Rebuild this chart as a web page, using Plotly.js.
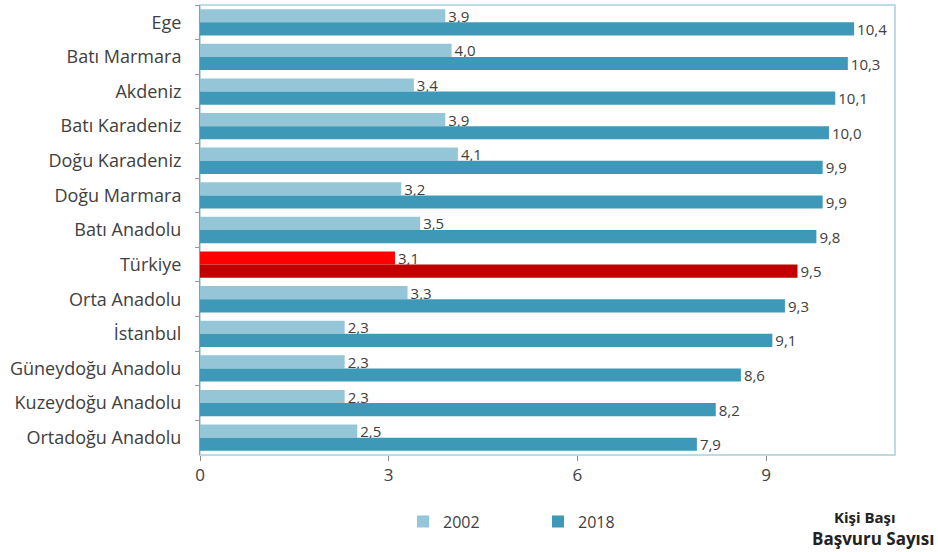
<!DOCTYPE html>
<html>
<head>
<meta charset="utf-8">
<script src="https://cdn.plot.ly/plotly-3.0.1.min.js"></script>
<style>
  html, body { margin: 0; padding: 0; background: #fff; }
  #chart { width: 938px; height: 552px; }
</style>
</head>
<body>
<div id="chart"></div>
<script>
// Regions, top to bottom
const regions = [
  "Ege", "Batı Marmara", "Akdeniz", "Batı Karadeniz", "Doğu Karadeniz",
  "Doğu Marmara", "Batı Anadolu", "Türkiye", "Orta Anadolu", "İstanbul",
  "Güneydoğu Anadolu", "Kuzeydoğu Anadolu", "Ortadoğu Anadolu"
];
// Applications per person
const values2002 = [3.9, 4.0, 3.4, 3.9, 4.1, 3.2, 3.5, 3.1, 3.3, 2.3, 2.3, 2.3, 2.5];
const values2018 = [10.4, 10.3, 10.1, 10.0, 9.9, 9.9, 9.8, 9.5, 9.3, 9.1, 8.6, 8.2, 7.9];
const xTicks = [0, 3, 6, 9];

const light = "#95c6d8", dark = "#3d99b7";
const highlight = "Türkiye";
const colors2002 = regions.map(r => r === highlight ? "#ff0000" : light);
const colors2018 = regions.map(r => r === highlight ? "#c00000" : dark);

const fontFam = "'Open Sans', Lato, sans-serif";
const txt = "#404040";

const traces = [
  {
    type: "bar", orientation: "h", name: "2002",
    y: regions, x: values2002,
    marker: { color: colors2002 },
    texttemplate: "%{x:.1f}", textposition: "outside", cliponaxis: false,
    constraintext: "none",
    textfont: { family: fontFam, size: 15, color: txt }
  },
  {
    type: "bar", orientation: "h", name: "2018",
    y: regions, x: values2018,
    marker: { color: colors2018 },
    texttemplate: "%{x:.1f}", textposition: "outside", cliponaxis: false,
    constraintext: "none",
    textfont: { family: fontFam, size: 15, color: txt }
  }
];

// paper-coordinate helper for the right-hand caption
const L = 200, R = 895;
const px = v => (v - L) / (R - L);

const layout = {
  width: 938, height: 552,
  margin: { l: 200, r: 43, t: 5, b: 97 },
  separators: ",.",
  font: { family: fontFam, color: txt },
  paper_bgcolor: "#fff", plot_bgcolor: "#fff",
  barmode: "group", bargap: 0.24, bargroupgap: 0,
  xaxis: {
    range: [0, 11.05], tickvals: xTicks, ticktext: xTicks.map(String),
    showgrid: false, zeroline: false, showline: false,
    ticks: "outside", ticklen: 5, tickcolor: "#8a8a8a",
    tickfont: { size: 17, color: txt }
  },
  yaxis: {
    autorange: "reversed", type: "category",
    showgrid: false, zeroline: false,
    showline: true, linecolor: "#9a9a9a", linewidth: 1,
    ticks: "outside", tickson: "boundaries", ticklen: 4, tickcolor: "#9a9a9a",
    ticklabelstandoff: 14,
    tickfont: { size: 18, color: txt }
  },
  shapes: [{
    type: "rect", xref: "paper", yref: "paper", x0: 0, x1: 1, y0: 0, y1: 1,
    line: { color: "#a8d0e0", width: 1.5 }, layer: "below"
  }],
  showlegend: true,
  legend: {
    orientation: "h", x: px(403), xanchor: "left", y: -0.148, yanchor: "middle",
    entrywidth: 90, entrywidthmode: "pixels",
    font: { size: 16, color: txt }, itemwidth: 30
  },
  annotations: [
    { xref: "paper", yref: "paper", x: px(898), y: -0.138, xanchor: "right", yanchor: "middle",
      text: "<b>Kişi Başı</b>", showarrow: false, font: { size: 15, color: "#222" } },
    { xref: "paper", yref: "paper", x: px(936), y: -0.186, xanchor: "right", yanchor: "middle",
      text: "<b>Başvuru Sayısı</b>", showarrow: false, font: { size: 17, color: "#222" } }
  ]
};

Plotly.newPlot("chart", traces, layout, { displayModeBar: false, staticPlot: true });
</script>
</body>
</html>
